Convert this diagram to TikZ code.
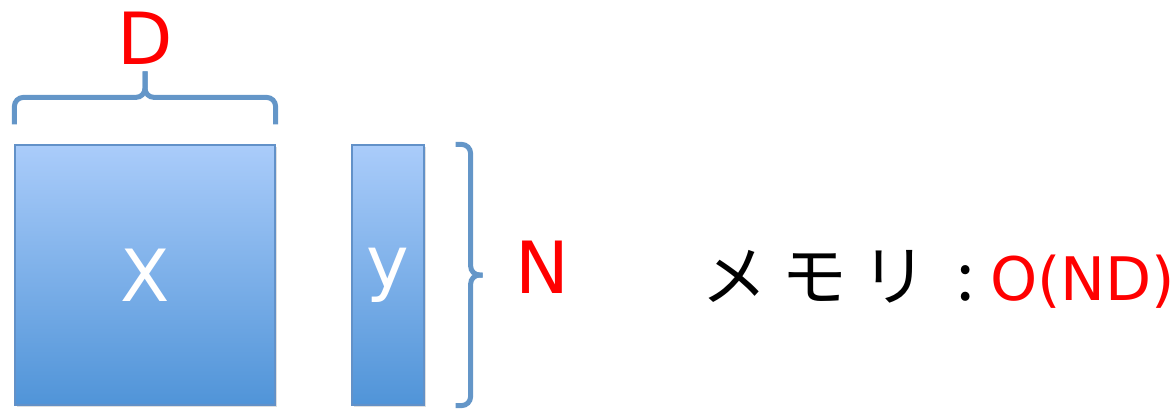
\documentclass[tikz,border=0pt]{standalone}
\usepackage{fontspec}
\setmainfont{DejaVu Sans}
\newfontfamily\jpfont{Noto Sans CJK JP}
\usetikzlibrary{positioning,shadows}
\definecolor{boxtop}{RGB}{170,204,250}
\definecolor{boxbot}{RGB}{80,148,216}
\definecolor{boxedge}{RGB}{98,145,200}
\definecolor{bracecol}{RGB}{100,150,200}
\definecolor{labred}{RGB}{255,0,0}

\begin{document}
\begin{tikzpicture}[x=1pt, y=1pt, node distance=243pt]
        % Stili
        \tikzstyle{matrice} = [rectangle, draw=boxedge, line width=1.2pt, top color=boxtop, bottom color=boxbot, minimum height=260pt, text=white, font=\fontsize{72}{80}\selectfont, drop shadow={opacity=0.25, shadow xshift=2pt, shadow yshift=-2pt}]
        \tikzstyle{graffa} = [draw=bracecol, line width=5pt, rounded corners=9pt]
        \tikzstyle{dim} = [text=labred, font=\fontsize{72}{80}\selectfont, inner sep=0pt]

        \useasboundingbox (0,0) rectangle (1176,408);

        % Nodi
        \node [matrice, minimum width=260pt] (xbox) at (145,133) {X};
        \node [matrice, minimum width=72pt, right of=xbox] (ybox) {y};

        \node [dim, above=80pt of xbox] (dlab) {D};
        \node [dim, right=91pt of ybox, yshift=8pt] (nlab) {N};

        \node [anchor=base west, inner sep=0pt, font=\jpfont\fontsize{66}{80}\selectfont] (mem) at (701,108) {メ\hspace{14pt}モ\hspace{14pt}リ\hspace{15pt} :};
        \node [anchor=base west, inner sep=0pt, text=labred, font=\fontsize{60}{70}\selectfont] (cost) at (990,108) {O(ND)};

        % Graffe
        \draw [graffa] ([yshift=20pt]xbox.north west) |- ([yshift=47pt]xbox.north) -- ([yshift=73pt]xbox.north);
        \draw [graffa] ([yshift=20pt]xbox.north east) |- ([yshift=47pt]xbox.north) -- ([yshift=73pt]xbox.north);

        \draw [graffa] ([xshift=31pt]ybox.north east) -| ([xshift=46pt]ybox.east) -- ([xshift=58pt]ybox.east);
        \draw [graffa] ([xshift=31pt]ybox.south east) -| ([xshift=46pt]ybox.east) -- ([xshift=58pt]ybox.east);

    \end{tikzpicture}
\end{document}
